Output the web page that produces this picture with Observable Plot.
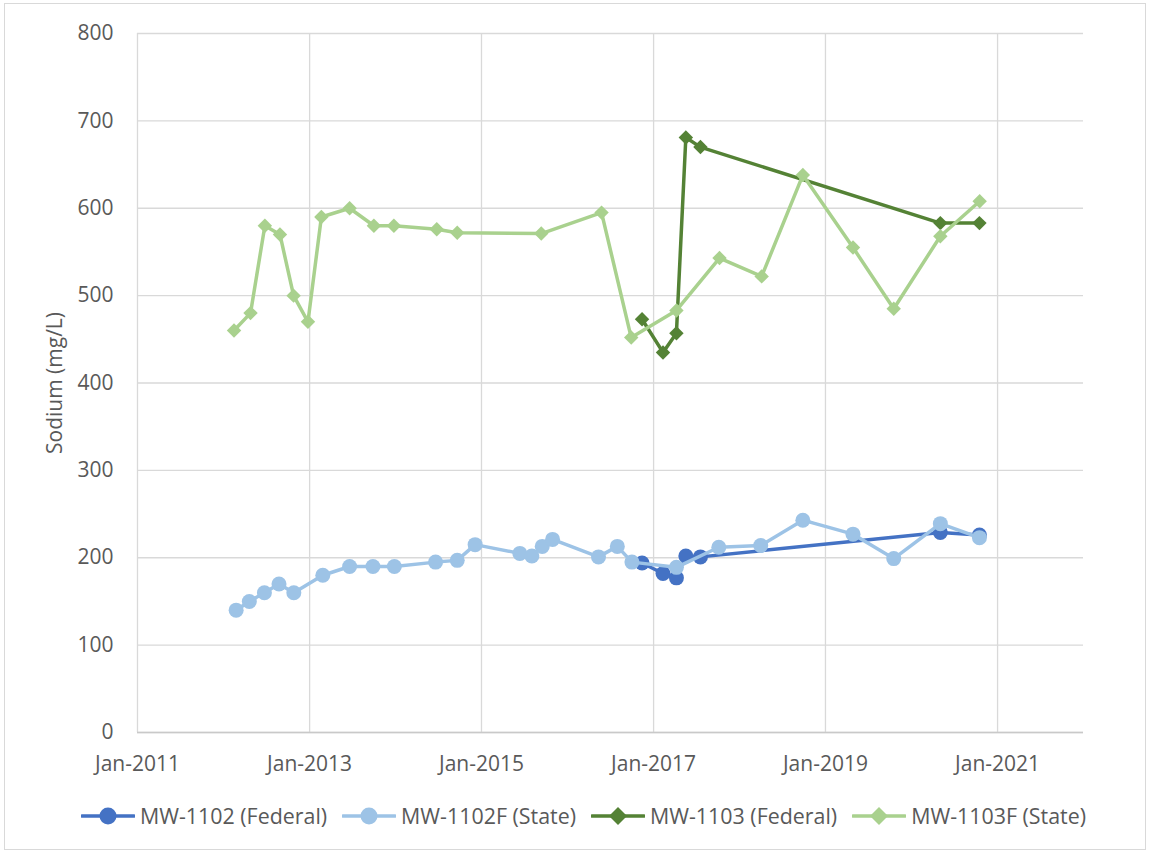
<!DOCTYPE html>
<html>
<head>
<meta charset="utf-8">
<script src="https://cdn.jsdelivr.net/npm/d3@7"></script>
<script src="https://cdn.jsdelivr.net/npm/@observablehq/plot@0.6"></script>
<style>
  body { margin: 0; background: #fff; font-family: "Open Sans", sans-serif; }
  #wrap { position: relative; width: 1151px; height: 854px; overflow: hidden; }
  #frame { position: absolute; left: 4px; top: 3px; width: 1142px; height: 847px; border: 1px solid #d9d9d9; box-sizing: border-box; }
  #chart { position: absolute; left: 0; top: 0; }
  #legend { position: absolute; left: 0; top: 801px; width: 1151px; display: flex; justify-content: center; padding-left: 16px; box-sizing: border-box; font-size: 21.4px; color: #595959; line-height: 30px; white-space: nowrap; }
  .item { display: flex; align-items: center; margin: 0 7.5px; }
  .item svg { margin-right: 5px; }
</style>
</head>
<body>
<div id="wrap">
  <div id="frame"></div>
  <div id="chart"></div>
  <div id="legend"></div>
</div>
<script>
// ---- data ----
const seriesNames = ["MW-1102 (Federal)", "MW-1102F (State)", "MW-1103 (Federal)", "MW-1103F (State)"];
const seriesColors = ["#4472C4", "#9DC3E6", "#548235", "#A9D18E"];
const seriesSymbols = ["circle", "circle", "diamond2", "diamond2"];

const mw1102Dates = ["2016-11-13","2017-02-10","2017-04-08","2017-05-18","2017-07-19","2020-05-03","2020-10-16"];
const mw1102Values = [194, 182, 177, 202, 201, 229, 226];

const mw1102FDates = ["2012-02-24","2012-04-20","2012-06-23","2012-08-24","2012-10-26","2013-02-26","2013-06-20","2013-09-27","2013-12-27","2014-06-20","2014-09-20","2014-12-05","2015-06-13","2015-08-03","2015-09-16","2015-10-30","2016-05-12","2016-07-31","2016-10-01","2017-04-08","2017-10-05","2018-04-01","2018-09-27","2019-04-28","2019-10-18","2020-05-03","2020-10-16"];
const mw1102FValues = [140, 150, 160, 170, 160, 180, 190, 190, 190, 195, 197, 215, 205, 202, 213, 221, 201, 213, 195, 189, 212, 214, 243, 227, 199, 239, 223];

const mw1103Dates = ["2016-11-13","2017-02-10","2017-04-08","2017-05-18","2017-07-19","2020-05-03","2020-10-16"];
const mw1103Values = [473, 435, 457, 681, 670, 583, 583];

const mw1103FDates = ["2012-02-15","2012-04-25","2012-06-25","2012-08-28","2012-10-25","2012-12-25","2013-02-20","2013-06-20","2013-10-01","2013-12-25","2014-06-25","2014-09-20","2015-09-12","2016-05-25","2016-09-28","2017-04-08","2017-10-08","2018-04-05","2018-09-27","2019-04-28","2019-10-18","2020-05-03","2020-10-17"];
const mw1103FValues = [460, 480, 580, 570, 500, 470, 590, 600, 580, 580, 576, 572, 571, 595, 452, 483, 543, 522, 638, 555, 485, 568, 608];

const xTickYears = [2011, 2013, 2015, 2017, 2019, 2021];
const xDomainYears = [2011, 2022];
const yTicks = [0, 100, 200, 300, 400, 500, 600, 700, 800];
const yLabel = "Sodium (mg/L)";

// ---- build ----
const allDates = [mw1102Dates, mw1102FDates, mw1103Dates, mw1103FDates];
const allValues = [mw1102Values, mw1102FValues, mw1103Values, mw1103FValues];
const parse = d3.utcParse("%Y-%m-%d");
const seriesData = allDates.map((ds, i) => ds.map((d, j) => ({date: parse(d), value: allValues[i][j], series: seriesNames[i]})));
const utcJan = y => new Date(Date.UTC(y, 0, 1));
const xTicks = xTickYears.map(utcJan);

const marks = [
  Plot.gridY(yTicks, {stroke: "#d9d9d9", strokeOpacity: 1, strokeWidth: 1.3}),
  Plot.gridX(xTicks, {stroke: "#d9d9d9", strokeOpacity: 1, strokeWidth: 1.3}),
  Plot.ruleY([0], {stroke: "#c9c9c9", strokeWidth: 1.5}),
  Plot.axisX(xTicks, {tickSize: 0, tickPadding: 24, tickFormat: d3.utcFormat("Jan-%Y"), label: null, fill: "#595959"}),
  Plot.axisY(yTicks, {tickSize: 0, tickPadding: 24, label: yLabel, labelAnchor: "center", labelArrow: "none", labelOffset: 90, fill: "#595959"})
];
seriesData.forEach((data, i) => {
  marks.push(Plot.line(data, {x: "date", y: "value", stroke: seriesColors[i], strokeWidth: 3.5}));
  marks.push(Plot.dot(data, {x: "date", y: "value", fill: seriesColors[i], stroke: "none", symbol: seriesSymbols[i], r: seriesSymbols[i] === "circle" ? 7.5 : 6.5}));
});

const chart = Plot.plot({
  width: 1151,
  height: 790,
  marginTop: 33,
  marginBottom: 58,
  marginLeft: 137,
  marginRight: 68,
  style: {fontFamily: "Open Sans", fontSize: "21px", color: "#595959", background: "transparent"},
  x: {type: "utc", domain: xDomainYears.map(utcJan)},
  y: {domain: [0, 800]},
  marks
});
document.getElementById("chart").appendChild(chart);

// ---- legend ----
const legend = document.getElementById("legend");
seriesNames.forEach((name, i) => {
  const item = document.createElement("div");
  item.className = "item";
  const sym = seriesSymbols[i] === "circle"
    ? `<circle cx="27" cy="10" r="8.5" fill="${seriesColors[i]}"/>`
    : `<path d="M27 1 L36 10 L27 19 L18 10 Z" fill="${seriesColors[i]}"/>`;
  item.innerHTML = `<svg width="54" height="20"><line x1="1" y1="10" x2="53" y2="10" stroke="${seriesColors[i]}" stroke-width="3.5" stroke-linecap="round"/>${sym}</svg><span>${name}</span>`;
  legend.appendChild(item);
});
</script>
</body>
</html>
